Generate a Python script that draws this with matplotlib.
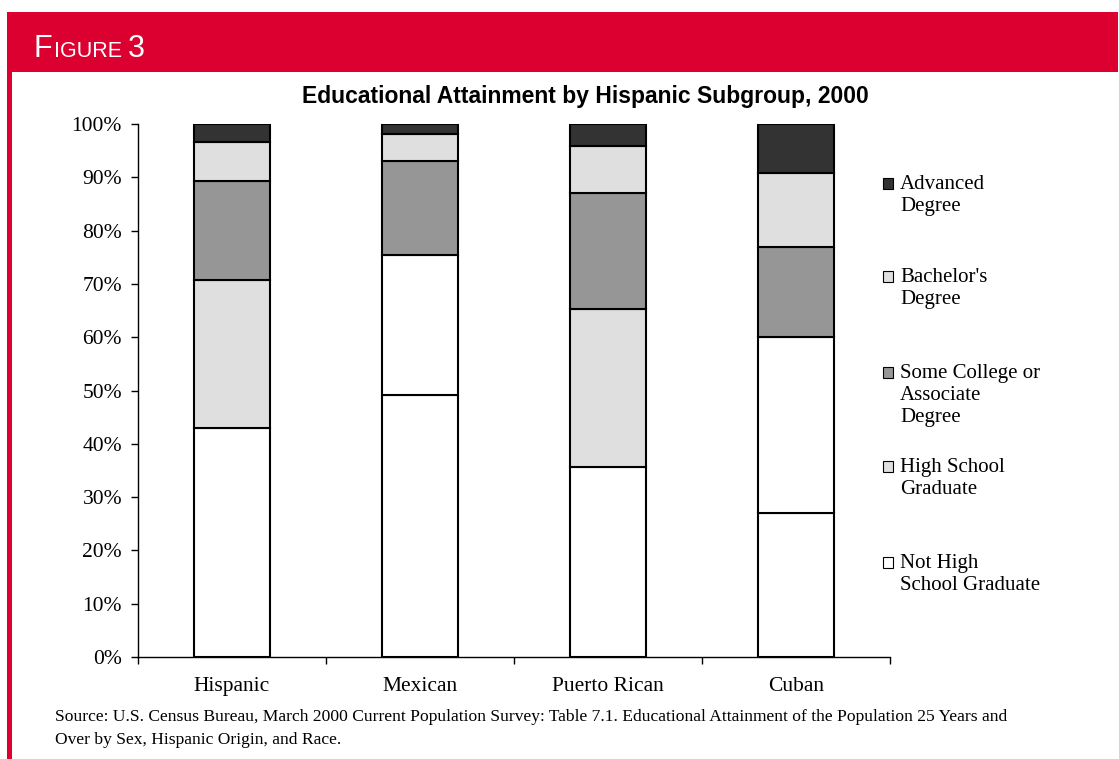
import numpy as np
import matplotlib.pyplot as plt
from matplotlib.patches import Rectangle
from matplotlib.ticker import PercentFormatter, FixedLocator

groups = ["Hispanic", "Mexican", "Puerto Rican", "Cuban"]
levels = ["Not High\nSchool Graduate", "High School\nGraduate",
          "Some College or\nAssociate\nDegree", "Bachelor's\nDegree",
          "Advanced\nDegree"]
# shares in percent, bottom segment first
not_hs = [42.9, 49.2, 35.6, 27.0]
hs_grad = [27.9, 26.3, 29.7, 33.0]
some_college = [18.5, 17.6, 21.8, 17.0]
bachelors = [7.3, 5.0, 8.7, 13.9]
advanced = [3.4, 1.9, 4.2, 9.1]
legend_colors = ["#FFFFFF", "#DFDFDF", "#969696", "#DFDFDF", "#333333"]
# the high school segment is left unshaded on the Mexican and Cuban bars
hs_colors = ["#DFDFDF", "#FFFFFF", "#DFDFDF", "#FFFFFF"]

RED = "#DC0030"
serif = "Liberation Serif"
sans = "Liberation Sans"

fig = plt.figure(figsize=(11.19, 7.59), dpi=100)
W, H = 1119, 759

# red frame: banner on top, thin bar down the left side
fig.patches.append(Rectangle((7 / W, 0), 5 / W, 1 - 12 / H, transform=fig.transFigure,
                             facecolor=RED, edgecolor="none"))
fig.patches.append(Rectangle((7 / W, 1 - 72 / H), (1118 - 7) / W, 60 / H,
                             transform=fig.transFigure, facecolor=RED, edgecolor="none"))

# small-caps heading, placed piece by piece
renderer = fig.canvas.get_renderer()
xpos = 33
for txt, size, gap in [("F", 22, 2), ("IGURE", 15.5, 6), ("3", 22, 0)]:
    t = fig.text(xpos / W, 1 - 57 / H, txt, color="white", fontsize=size,
                 family=sans, va="baseline")
    xpos += t.get_window_extent(renderer).width + gap

fig.text(585 / W, 1 - 96 / H, "Educational Attainment by Hispanic Subgroup, 2000",
         ha="center", va="center", fontsize=16.5, fontweight="bold", family=sans)

ax = fig.add_axes([138 / W, (H - 657) / H, 752 / W, 533 / H])
x = np.arange(len(groups))
seg_colors = [["#FFFFFF"] * 4, hs_colors, ["#969696"] * 4, ["#DFDFDF"] * 4, ["#333333"] * 4]
bottom = np.zeros(len(groups))
for vals, cs in zip([not_hs, hs_grad, some_college, bachelors, advanced], seg_colors):
    v = np.array(vals) / 100
    ax.bar(x, v, bottom=bottom, width=0.4, color=cs, edgecolor="black", linewidth=1.5)
    bottom += v

ax.set_xlim(-0.5, len(groups) - 0.5)
ax.set_ylim(0, 1)
ax.yaxis.set_major_locator(FixedLocator(np.arange(0, 1.01, 0.1)))
ax.yaxis.set_major_formatter(PercentFormatter(1.0, decimals=0))
ax.set_xticks(x)
ax.set_xticklabels(groups)
ax.xaxis.set_minor_locator(FixedLocator(np.arange(-0.5, len(groups), 1.0)))
ax.tick_params(axis="x", which="major", length=0, pad=14.5)
ax.tick_params(axis="x", which="minor", length=5, width=1, direction="out")
ax.tick_params(axis="y", length=5, width=1, direction="out", pad=6.5)
for lab in ax.get_xticklabels() + ax.get_yticklabels():
    lab.set_family(serif)
    lab.set_fontsize(15.5)
for s in ["top", "right"]:
    ax.spines[s].set_visible(False)
for s in ["left", "bottom"]:
    ax.spines[s].set_linewidth(1)

# legend, top entry first, evenly spaced
tops = [183, 276, 372, 466, 562]
for lab, c, y in zip(levels[::-1], legend_colors[::-1], tops):
    fig.patches.append(Rectangle((883 / W, 1 - (y + 6) / H), 10 / W, 11 / H,
                                 transform=fig.transFigure, facecolor=c,
                                 edgecolor="black", linewidth=0.8))
    fig.text(900 / W, 1 - (y - 8) / H, lab, family=serif, fontsize=15,
             va="top", ha="left", linespacing=1.2)

fig.text(55 / W, 1 - 717 / H,
         "Source: U.S. Census Bureau, March 2000 Current Population Survey: Table 7.1. "
         "Educational Attainment of the Population 25 Years and", family=serif,
         fontsize=12.6, va="center")
fig.text(55 / W, 1 - 740 / H, "Over by Sex, Hispanic Origin, and Race.", family=serif,
         fontsize=12.6, va="center")

fig.savefig("out.png", dpi=100)
